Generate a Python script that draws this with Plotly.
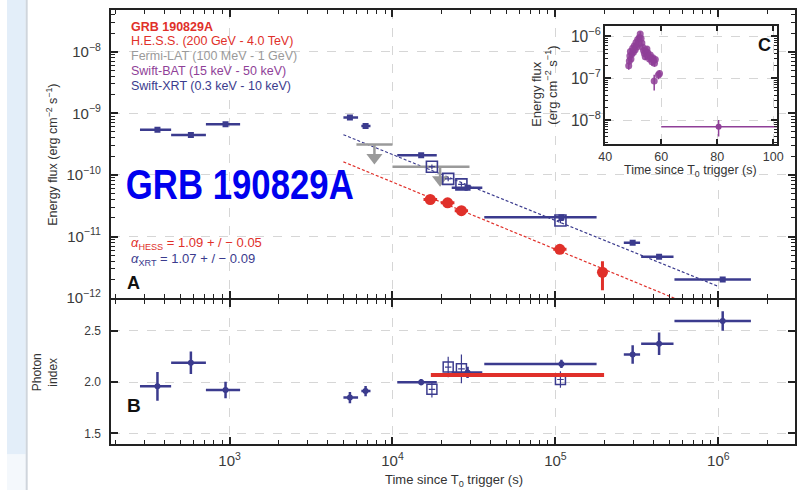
import numpy as np
import plotly.graph_objects as go

W, H = 807, 498
FONT = "Liberation Sans, Arial, Helvetica, sans-serif"

NAVY = "#3b3b8e"
RED = "#e0302a"
GRAY = "#9a9a9a"
PURPLE = "#8f3f98"
AXIS = "#222222"
GRID = "#d6d6d6"

# ---------------- data ----------------
# Swift-XRT (filled squares): time bins, energy flux, photon index
xrt_t = [361, 579, 945, 5480, 6840, 15000, 28900, 108900, 298000, 433000, 1064000]
xrt_t_lo = [282, 438, 716, 5000, 6440, 10700, 23100, 36600, 263000, 336000, 538000]
xrt_t_hi = [438, 716, 1161, 6150, 7330, 18700, 35600, 179000, 331000, 531000, 1585000]
xrt_flux = [5.42e-10, 4.46e-10, 6.67e-10, 8.53e-10, 6.2e-10, 2.09e-10, 6.19e-11,
            2.06e-11, 7.92e-12, 4.68e-12, 2.01e-12]
xrt_flux_err = [3.5e-11, 3.0e-11, 4.5e-11, 6.0e-11, 4.5e-11, 1.5e-11, 4.5e-12,
                1.5e-12, 6.0e-13, 3.5e-13, 1.8e-13]
xrt_index = [1.96, 2.19, 1.924, 1.85, 1.914, 2.0, 2.095, 2.178, 2.27, 2.375, 2.597]
xrt_index_err = [0.14, 0.11, 0.08, 0.055, 0.05, 0.03, 0.055, 0.04, 0.09, 0.11, 0.095]

# Swift-XRT restricted to the H.E.S.S. observation windows (open squares)
win_t = [17460, 21980, 26500, 107400]
win_t_lo = [16700, 21000, 25300, 102500]
win_t_hi = [18300, 23000, 27800, 112500]
win_flux = [1.36e-10, 8.63e-11, 7.02e-11, 1.82e-11]
win_flux_err = [1.2e-11, 7.0e-12, 6.0e-12, 1.8e-12]
win_index = [1.93, 2.147, 2.13, 2.026]
win_index_err = [0.08, 0.10, 0.14, 0.08]

# H.E.S.S. energy flux
hess_t = [17060, 21800, 26500, 106400, 194500]
hess_t_lo = [15500, 19800, 24100, 97000, 189000]
hess_t_hi = [18800, 24000, 29100, 117000, 200000]
hess_flux = [3.99e-11, 3.53e-11, 2.63e-11, 6.21e-12, 2.63e-12]
hess_flux_minus = [3.5e-12, 3.0e-12, 3.0e-12, 9.0e-13, 1.29e-12]
hess_flux_plus = [3.5e-12, 3.0e-12, 3.0e-12, 9.0e-13, 1.33e-12]
# H.E.S.S. time-averaged photon index
hess_index = 2.07
hess_index_t = [17200, 199000]

# Fermi-LAT upper limits
fermi_t_lo = [6010, 10000]
fermi_t_hi = [10000, 29700]
fermi_t_arrow = [7750, 19600]
fermi_ul = [3.12e-10, 1.36e-10]

# Power-law decay fits  F = F0 (t / t0)^-alpha
alpha_hess, alpha_hess_err = 1.09, 0.05
alpha_xrt, alpha_xrt_err = 1.07, 0.09
fit_t0 = 5000
hess_fit_norm, hess_fit_tend = 1.63e-10, 6.0e5
xrt_fit_norm, xrt_fit_tend = 4.5e-10, 1.0e6

# Swift-BAT prompt emission (inset)
bat_t = [48.4, 48.6, 48.8, 49.0, 49.2, 49.5, 49.8, 50.1, 50.4, 50.7, 51.0, 51.3,
         51.6, 51.9, 52.2, 52.5, 52.8, 53.1, 53.4, 53.7, 54.0, 54.3, 54.6, 54.9,
         55.2, 55.5, 55.8, 56.1, 56.4, 56.7, 57.0, 57.3, 57.6, 57.9, 57.5, 59.0, 59.4]
bat_flux = [2.0e-7, 2.6e-7, 3.4e-7, 4.4e-7, 2.9e-7, 3.8e-7, 5.2e-7, 4.2e-7, 6.0e-7,
            4.8e-7, 7.2e-7, 5.6e-7, 8.5e-7, 6.5e-7, 9.5e-7, 1.15e-6, 9.0e-7, 7.0e-7,
            5.5e-7, 4.6e-7, 3.9e-7, 3.3e-7, 4.4e-7, 5.0e-7, 4.1e-7, 3.4e-7, 2.9e-7,
            3.6e-7, 3.0e-7, 2.5e-7, 3.1e-7, 2.7e-7, 2.3e-7, 2.8e-7, 8.6e-8, 1.2e-7,
            1.3e-7]
bat_flux_err = [4e-8, 5e-8, 6e-8, 8e-8, 5e-8, 7e-8, 9e-8, 7e-8, 1.0e-7, 8e-8, 1.2e-7,
                9e-8, 1.3e-7, 1.0e-7, 1.4e-7, 1.6e-7, 1.3e-7, 1.1e-7, 9e-8, 8e-8, 7e-8,
                6e-8, 8e-8, 8e-8, 7e-8, 6e-8, 5e-8, 6e-8, 5e-8, 5e-8, 5e-8, 5e-8, 4e-8,
                5e-8, 3.5e-8, 2.5e-8, 2.5e-8]
bat_late_t, bat_late_t_lo, bat_late_t_hi = 80.5, 60.0, 105.0
bat_late_flux, bat_late_minus, bat_late_plus = 7.0e-9, 2.9e-9, 3.1e-9

# ---------------- geometry (pixels -> paper) ----------------
def fx(px):
    return px / W

def fy(py):
    return 1 - py / H

PANEL_X = [fx(106), fx(801)]
A_Y = [fy(303), fy(10)]
B_Y = [fy(451), fy(305)]
C_X = [fx(608), fx(783)]
C_Y = [fy(146), fy(26)]

X_RANGE = [np.log10(188), np.log10(2.96e6)]


def err_x(t, lo, hi, color, thick):
    t, lo, hi = map(np.asarray, (t, lo, hi))
    return dict(type="data", symmetric=False, array=hi - t, arrayminus=t - lo,
                color=color, thickness=thick, width=0)


def err_y(minus, plus, color, thick):
    return dict(type="data", symmetric=False, array=plus, arrayminus=minus,
                color=color, thickness=thick, width=0)


fig = go.Figure()

# ---------- panel A: energy flux ----------
for norm, alpha, t_end, color in [(hess_fit_norm, alpha_hess, hess_fit_tend, RED),
                                  (xrt_fit_norm, alpha_xrt, xrt_fit_tend, NAVY)]:
    tt = np.logspace(np.log10(fit_t0), np.log10(t_end), 60)
    fig.add_trace(go.Scatter(x=tt, y=norm * (tt / fit_t0) ** (-alpha), mode="lines",
                             line=dict(color=color, width=1.2, dash="3px,2px"),
                             xaxis="x", yaxis="y", hoverinfo="skip"))

# Fermi-LAT upper limits
bx, by, sx, sy = [], [], [], []
for lo, hi, ta, ul in zip(fermi_t_lo, fermi_t_hi, fermi_t_arrow, fermi_ul):
    bx += [lo, hi, None]
    by += [ul, ul, None]
    sx += [ta, ta, None]
    sy += [ul, ul * 10 ** -0.17, None]
fig.add_trace(go.Scatter(x=bx, y=by, mode="lines", line=dict(color=GRAY, width=2.5),
                         xaxis="x", yaxis="y"))
fig.add_trace(go.Scatter(x=sx, y=sy, mode="lines", line=dict(color=GRAY, width=2.5),
                         xaxis="x", yaxis="y"))
fig.add_trace(go.Scatter(x=fermi_t_arrow, y=[u * 10 ** -0.21 for u in fermi_ul],
                         mode="markers",
                         marker=dict(symbol="triangle-down", size=14, color=GRAY),
                         xaxis="x", yaxis="y"))

fig.add_trace(go.Scatter(x=xrt_t, y=xrt_flux, mode="markers",
                         marker=dict(symbol="square", size=6, color=NAVY),
                         error_x=err_x(xrt_t, xrt_t_lo, xrt_t_hi, NAVY, 2.5),
                         error_y=err_y(xrt_flux_err, xrt_flux_err, NAVY, 2),
                         xaxis="x", yaxis="y"))
fig.add_trace(go.Scatter(x=win_t, y=win_flux, mode="markers",
                         marker=dict(symbol="square-open", size=11, color=NAVY,
                                     line=dict(width=1.6, color=NAVY)),
                         error_x=err_x(win_t, win_t_lo, win_t_hi, NAVY, 1.2),
                         error_y=err_y(win_flux_err, win_flux_err, NAVY, 1.2),
                         xaxis="x", yaxis="y"))
fig.add_trace(go.Scatter(x=hess_t, y=hess_flux, mode="markers",
                         marker=dict(symbol="circle", size=11, color=RED),
                         error_x=err_x(hess_t, hess_t_lo, hess_t_hi, RED, 3),
                         error_y=err_y(hess_flux_minus, hess_flux_plus, RED, 3),
                         xaxis="x", yaxis="y"))

# ---------- panel B: photon index ----------
fig.add_trace(go.Scatter(x=xrt_t, y=xrt_index, mode="markers",
                         marker=dict(symbol="circle", size=6, color=NAVY),
                         error_x=err_x(xrt_t, xrt_t_lo, xrt_t_hi, NAVY, 2.5),
                         error_y=err_y(xrt_index_err, xrt_index_err, NAVY, 2.5),
                         xaxis="x2", yaxis="y2"))
fig.add_trace(go.Scatter(x=win_t, y=win_index, mode="markers",
                         marker=dict(symbol="square-open", size=10, color=NAVY,
                                     line=dict(width=1.5, color=NAVY)),
                         error_x=err_x(win_t, win_t_lo, win_t_hi, NAVY, 1.2),
                         error_y=err_y(win_index_err, win_index_err, NAVY, 1.2),
                         xaxis="x2", yaxis="y2"))
fig.add_trace(go.Scatter(x=hess_index_t, y=[hess_index] * len(hess_index_t), mode="lines",
                         line=dict(color=RED, width=4), xaxis="x2", yaxis="y2"))

# ---------- inset C: Swift-BAT ----------
fig.add_trace(go.Scatter(x=bat_t, y=bat_flux, mode="markers",
                         marker=dict(symbol="circle", size=7, color=PURPLE, opacity=0.85),
                         error_y=err_y(bat_flux_err, bat_flux_err, PURPLE, 1.5),
                         xaxis="x3", yaxis="y3"))
fig.add_trace(go.Scatter(x=[bat_late_t], y=[bat_late_flux], mode="markers",
                         marker=dict(symbol="circle", size=6, color=PURPLE),
                         error_x=err_x([bat_late_t], [bat_late_t_lo], [bat_late_t_hi], PURPLE, 1.5),
                         error_y=err_y([bat_late_minus], [bat_late_plus], PURPLE, 1.5),
                         xaxis="x3", yaxis="y3"))

# ---------------- axes ----------------
tickfont = dict(family=FONT, size=12, color="#3a3a3a")
common = dict(showline=True, linecolor=AXIS, linewidth=2, mirror="ticks",
              ticks="inside", tickcolor=AXIS, tickwidth=1.5, ticklen=7,
              showgrid=True, gridcolor=GRID, griddash="dash", gridwidth=1,
              zeroline=False, tickfont=tickfont)
log_minor = dict(ticks="inside", ticklen=4, tickwidth=1.2, tickcolor=AXIS,
                 dtick="D1", showgrid=False)
inset_font = dict(family=FONT, size=12.5, color="#3a3a3a")

fig.update_layout(
    xaxis=dict(common, type="log", domain=PANEL_X, anchor="y", range=X_RANGE,
               dtick=1, showticklabels=False, minor=log_minor),
    yaxis=dict(common, type="log", domain=A_Y, anchor="x", range=[-12, -7.32],
               dtick=1, exponentformat="power", minor=log_minor, ticklabelstandoff=6),
    xaxis2=dict(common, type="log", domain=PANEL_X, anchor="y2", range=X_RANGE,
                dtick=1, exponentformat="power", minor=log_minor, ticklabelstandoff=3),
    yaxis2=dict(common, domain=B_Y, anchor="x2", range=[1.4, 2.8],
                tickvals=[1.5, 2.0, 2.5], tickformat=".1f", ticklabelstandoff=6),
    xaxis3=dict(common, domain=C_X, anchor="y3", range=[40, 101.5],
                tickvals=[40, 60, 80, 100], ticklen=5, tickfont=inset_font),
    yaxis3=dict(common, type="log", domain=C_Y, anchor="x3", range=[-8.56, -5.74],
                dtick=1, exponentformat="power", ticklen=6,
                minor=dict(log_minor, ticklen=3), tickfont=inset_font),
)

# ---------------- text ----------------
annotations = []


def ann(text, x, y, size, color="#333", xanchor="center", bold=False,
        family=FONT, angle=0):
    if bold:
        text = "<b>" + text + "</b>"
    annotations.append(dict(text=text, x=fx(x), y=fy(y), xref="paper", yref="paper",
                            xanchor=xanchor, yanchor="middle", showarrow=False,
                            textangle=angle,
                            font=dict(family=family, size=size, color=color)))


legend_rows = [
    ("GRB 190829A", RED, True),
    ("H.E.S.S. (200 GeV - 4.0 TeV)", RED, False),
    ("Fermi-LAT (100 MeV - 1 GeV)", GRAY, False),
    ("Swift-BAT (15 keV - 50 keV)", PURPLE, False),
    ("Swift-XRT (0.3 keV - 10 keV)", NAVY, False),
]
for i, (label, color, bold) in enumerate(legend_rows):
    ann(label, 124, 27 + 15 * i, 12.5, color, xanchor="left", bold=bold)

ann(f"<i>α</i><sub>HESS</sub> = {alpha_hess:.2f} + / − {alpha_hess_err:.2f}",
    124, 247, 13, RED, xanchor="left")
ann(f"<i>α</i><sub>XRT</sub> = {alpha_xrt:.2f} + / − {alpha_xrt_err:.2f}",
    124, 264, 13, NAVY, xanchor="left")

ann("A", 129, 288, 18, "#111", bold=True)
ann("B", 129, 412, 19, "#111", bold=True)
ann("C", 770, 46, 18, "#111", bold=True)

TITLE_WIDTH = 228  # condensed display width of the big title, px
ann("GRB 190829A", 236, 188, 42, "#0000ee", bold=True)

ann("Energy flux (erg cm<sup>−2</sup> s<sup>−1</sup>)", 46, 157, 12.5, angle=-90)
ann("Photon<br>index", 39, 378, 12, angle=-90)
ann("Time since T<sub>0</sub> trigger (s)", 454, 488, 13)

ann("Energy flux", 538, 95, 13, angle=-90)
ann("(erg cm<sup>−2</sup> s<sup>−1</sup>)", 553, 87, 13, angle=-90)
ann("Time since T<sub>0</sub> trigger (s)", 695, 174, 12.5)

# page backdrop: white card on a pale blue page
shapes = [
    dict(type="rect", xref="paper", yref="paper", x0=0, x1=fx(19), y0=fy(462), y1=1,
         fillcolor="#e3eef9", line_width=0, layer="below"),
    dict(type="rect", xref="paper", yref="paper", x0=0, x1=fx(19), y0=0, y1=fy(462),
         fillcolor="#f4f8fc", line_width=0, layer="below"),
    dict(type="line", xref="paper", yref="paper", x0=fx(20), x1=fx(20), y0=0, y1=1,
         line=dict(color="#cfd5dc", width=2), layer="below"),
]

fig.update_layout(
    width=W, height=H, margin=dict(l=0, r=0, t=0, b=0),
    paper_bgcolor="white", plot_bgcolor="white",
    showlegend=False, annotations=annotations, shapes=shapes,
    font=dict(family=FONT),
)

# squeeze the big bold title into a condensed width
post = """
var gd = document.getElementById('{plot_id}');
gd.querySelectorAll('text.annotation-text').forEach(function (t) {
  if (t.textContent === 'GRB 190829A' && parseFloat(t.style.fontSize) > 30) {
    t.setAttribute('textLength', '%d');
    t.setAttribute('lengthAdjust', 'spacingAndGlyphs');
  }
});
""" % TITLE_WIDTH

fig.write_html("out.html", post_script=post)
